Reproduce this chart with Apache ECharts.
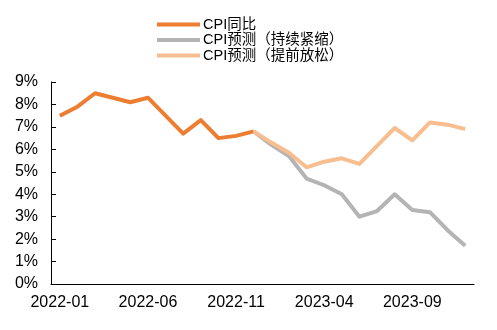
<!DOCTYPE html>
<html><head><meta charset="utf-8">
<script src="https://cdn.jsdelivr.net/npm/echarts@6/dist/echarts.min.js"></script>
<style>html,body{margin:0;padding:0;background:#fff}#c{width:497px;height:330px}</style>
</head><body><div id="c"></div>
<script>
var categories = ['2022-01','2022-02','2022-03','2022-04','2022-05','2022-06','2022-07','2022-08','2022-09','2022-10','2022-11','2022-12',
'2023-01','2023-02','2023-03','2023-04','2023-05','2023-06','2023-07','2023-08','2023-09','2023-10','2023-11','2023-12'];
var cpiActual = [7.5,7.9,8.5,8.3,8.1,8.3,7.5,6.7,7.3,6.5,6.6,6.8,null,null,null,null,null,null,null,null,null,null,null,null];
var cpiTight = [null,null,null,null,null,null,null,null,null,null,null,6.8,6.2,5.7,4.7,4.4,4.0,3.0,3.25,4.0,3.3,3.2,2.4,1.7];
var cpiLoose = [null,null,null,null,null,null,null,null,null,null,null,6.8,6.3,5.85,5.2,5.45,5.6,5.35,6.15,6.95,6.4,7.2,7.1,6.9];
var seriesNames = ['CPI同比','CPI预测（持续紧缩）','CPI预测（提前放松）'];
var colors = ['#ED7D31','#B4B4B4','#F8BE8F'];
var font = '"Liberation Sans", Arial, "Noto Sans CJK SC", sans-serif';
var chart = echarts.init(document.getElementById('c'));
function mk(i, data){
  return {name: seriesNames[i], type:'line', data:data, symbol:'none', smooth:false,
    lineStyle:{width:4, color:colors[i], join:'round'}, itemStyle:{color:colors[i]}, z: 2+i, animation:false};
}
chart.setOption({
  animation:false,
  textStyle:{fontFamily:font},
  legend:{orient:'vertical', left:152, top:12, padding:5, itemWidth:43, itemHeight:4, itemGap:0.5, icon:'rect',
    textStyle:{fontSize:14.5, color:'#000', fontFamily:font, lineHeight:15, padding:[0,0,0,-2]},
    data:seriesNames},
  grid:{left:51, right:23, top:82, bottom:46, containLabel:false},
  xAxis:{type:'category', data:categories, boundaryGap:true,
    axisLine:{lineStyle:{color:'#000', width:1}},
    axisTick:{inside:true, length:5, interval:4, lineStyle:{color:'#000'}},
    axisLabel:{interval:4, fontSize:16, color:'#000', margin:11, fontFamily:font},
    splitLine:{show:false}},
  yAxis:{type:'value', min:0, max:9, interval:1,
    axisLine:{show:true, lineStyle:{color:'#000', width:1}},
    axisTick:{show:true, inside:true, length:5, lineStyle:{color:'#000'}},
    axisLabel:{formatter:'{value}%', fontSize:16, color:'#000', margin:13, fontFamily:font},
    splitLine:{show:false}},
  series:[mk(0,cpiActual), mk(1,cpiTight), mk(2,cpiLoose)]
});
</script></body></html>
